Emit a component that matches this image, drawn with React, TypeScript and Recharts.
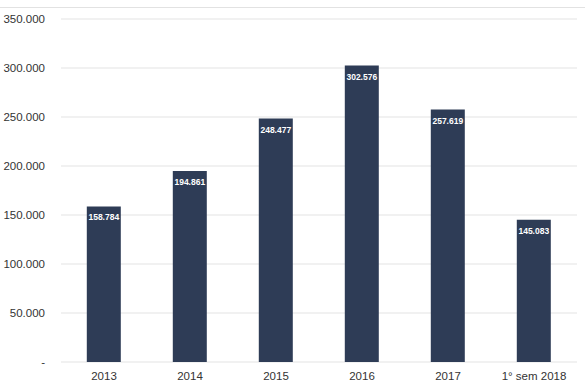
import { BarChart, Bar, XAxis, YAxis, CartesianGrid, LabelList } from 'recharts';

const categories = ['2013', '2014', '2015', '2016', '2017', '1° sem 2018'];
const values = [158784, 194861, 248477, 302576, 257619, 145083];
const yTicks = [0, 50000, 100000, 150000, 200000, 250000, 300000, 350000];

// pt-BR style thousands separator, zero shown as a dash
const fmt = (v: number) =>
  v === 0 ? '-' : String(v).replace(/\B(?=(\d{3})+(?!\d))/g, '.');

const data = categories.map((c, i) => ({ name: c, value: values[i] }));

export default function App() {
  return (
    <div
      style={{
        position: 'absolute',
        left: 0,
        top: 0,
        width: 585,
        height: 390,
        background: '#fff',
        fontFamily: '"Liberation Sans", Arial, sans-serif',
      }}
    >
      <div style={{ position: 'absolute', left: 0, right: 0, top: 7, borderTop: '1px solid #e2e2e2' }} />
      <BarChart
        width={585}
        height={390}
        data={data}
        margin={{ top: 19, right: 8, left: 0, bottom: 8 }}
        barCategoryGap="30%"
      >
        <CartesianGrid vertical={false} stroke="#e3e3e3" />
        <XAxis
          dataKey="name"
          height={20}
          axisLine={false}
          tickLine={false}
          tickSize={0}
          tickMargin={10}
          tick={{ fill: '#333', fontSize: 11.5 }}
        />
        <YAxis
          width={61}
          domain={[0, 350000]}
          ticks={yTicks}
          tickFormatter={fmt}
          axisLine={false}
          tickLine={false}
          tickSize={0}
          tickMargin={16}
          tick={{ fill: '#333', fontSize: 11.5 }}
        />
        <Bar dataKey="value" fill="#2e3c56" isAnimationActive={false}>
          <LabelList
            dataKey="value"
            position="insideTop"
            offset={8}
            formatter={(v: number) => fmt(v)}
            style={{ fill: '#fff', fontSize: 8.5, fontWeight: 'bold' }}
          />
        </Bar>
      </BarChart>
    </div>
  );
}
